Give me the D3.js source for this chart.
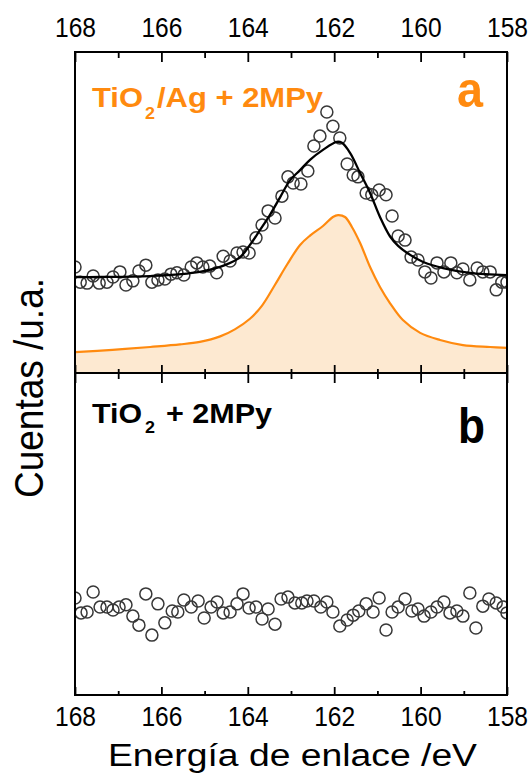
<!DOCTYPE html>
<html><head><meta charset="utf-8">
<script src="https://cdn.jsdelivr.net/npm/d3@7"></script>
<style>html,body{margin:0;padding:0;background:#fff;}svg{display:block;}</style>
</head><body>
<script>
// ---- data ----
const majorTicks = [168, 166, 164, 162, 160, 158];
const minorTicks = [167, 165, 163, 161, 159];
const tickLabels = ["168", "166", "164", "162", "160", "158"];

const fitEnergy = [168.00,167.42,166.26,165.11,164.53,164.18,163.95,163.72,163.49,163.25,163.02,162.79,162.56,162.26,161.94,161.82,161.63,161.40,161.17,160.94,160.71,160.52,160.30,159.94,159.48,158.86,158.00];
const fitA = [29.9,29.9,30.2,31.5,33.6,36.1,39.9,44.5,49.2,54.8,60.1,63.2,66.4,69.5,72.0,71.7,68.5,62.3,56.1,48.6,42.6,39.6,37.3,34.6,32.7,31.2,30.5];

const compEnergy = [168.00,167.13,166.26,165.57,165.11,164.64,164.30,163.95,163.67,163.37,163.09,162.79,162.56,162.26,162.03,161.91,161.75,161.59,161.40,161.17,160.94,160.71,160.41,160.01,159.55,159.02,158.39,158.00];
const compA = [6.5,7.2,8.1,8.9,9.7,11.4,13.6,16.9,21.0,27.5,33.8,39.9,42.8,45.8,48.6,49.2,48.6,45.5,40.5,33.0,26.8,21.8,16.5,12.5,10.3,8.7,8.1,7.8];

const energyA = [168.00,167.88,167.72,167.58,167.44,167.26,167.12,166.96,166.82,166.66,166.52,166.36,166.22,166.08,165.92,165.78,165.64,165.48,165.31,165.18,165.04,164.88,164.72,164.57,164.41,164.25,164.11,163.97,163.81,163.67,163.53,163.37,163.21,163.07,162.95,162.77,162.61,162.47,162.33,162.17,162.03,161.87,161.70,161.56,161.45,161.26,161.13,160.96,160.80,160.66,160.52,160.36,160.22,160.06,159.90,159.76,159.62,159.46,159.30,159.16,159.02,158.86,158.69,158.56,158.39,158.25,158.12,158.00];
const countsA = [33.0,28.3,28.0,30.2,28.0,28.3,29.9,31.5,27.4,28.7,31.8,33.6,28.3,29.0,29.3,30.8,31.2,30.5,33.0,34.3,33.0,33.3,31.2,36.4,34.9,37.4,37.7,37.4,42.1,46.1,50.5,48.3,55.1,61.1,59.2,58.9,62.9,70.7,73.8,81.3,76.9,73.2,65.1,61.7,61.1,56.1,55.5,57.0,55.5,48.9,42.7,41.4,36.1,35.2,31.5,29.6,34.3,31.5,34.3,31.2,32.4,29.0,32.7,31.5,31.5,25.9,28.3,28.3];

const energyB = [168.00,167.86,167.72,167.58,167.42,167.26,167.12,166.98,166.82,166.66,166.52,166.36,166.22,166.08,165.92,165.75,165.62,165.48,165.31,165.15,165.01,164.85,164.71,164.57,164.41,164.25,164.11,163.97,163.81,163.67,163.53,163.37,163.23,163.07,162.91,162.75,162.63,162.47,162.31,162.17,162.03,161.87,161.70,161.56,161.43,161.26,161.10,160.96,160.80,160.66,160.52,160.36,160.20,160.06,159.92,159.76,159.62,159.46,159.32,159.16,159.02,158.86,158.72,158.56,158.42,158.25,158.09,158.00];
const countsB = [30.1,25.5,25.8,32.0,27.3,27.3,26.4,27.3,28.0,24.5,21.7,31.4,18.6,28.3,22.4,26.1,25.8,29.5,27.3,29.2,23.9,27.3,28.9,25.5,25.8,28.3,31.4,27.0,27.3,23.6,26.7,22.0,29.8,30.4,28.6,28.6,29.2,29.2,27.3,28.9,25.8,21.4,23.3,24.8,26.1,28.3,25.8,30.1,20.2,25.8,27.3,29.8,26.1,26.7,24.5,25.8,27.3,28.9,25.5,26.1,24.5,31.7,20.8,27.6,29.8,28.6,27.3,25.5];

// ---- layout ----
const W = 531, H = 777;
const L = 75, R = 507, T = 52, MID = 373, B = 695;
const FONT = "'Liberation Sans', Arial, sans-serif";
const ORANGE = "#ff8a0f";
const CURVE = d3.curveCatmullRom.alpha(0.5);

const svg = d3.select("body").append("svg").attr("width", W).attr("height", H);

const x = d3.scaleLinear().domain([168, 158]).range([L, R]);
const yA = d3.scaleLinear().domain([0, 100]).range([MID, T]);
const yB = d3.scaleLinear().domain([0, 100]).range([B, MID]);

svg.append("clipPath").attr("id", "clipA").append("rect").attr("x", L).attr("y", T).attr("width", R - L).attr("height", MID - T);
svg.append("clipPath").attr("id", "clipB").append("rect").attr("x", L).attr("y", MID).attr("width", R - L).attr("height", B - MID);

// panel a
const gA = svg.append("g").attr("clip-path", "url(#clipA)");
const comp = compEnergy.map((e, i) => [e, compA[i]]);
gA.append("path").datum(comp)
  .attr("d", d3.area().x(d => x(d[0])).y0(yA(0)).y1(d => yA(d[1])).curve(CURVE))
  .attr("fill", "#fde9d1");
gA.append("path").datum(comp)
  .attr("d", d3.line().x(d => x(d[0])).y(d => yA(d[1])).curve(CURVE))
  .attr("fill", "none").attr("stroke", ORANGE).attr("stroke-width", 2.2);
gA.selectAll("circle").data(energyA.map((e, i) => [e, countsA[i]])).enter().append("circle")
  .attr("cx", d => x(d[0])).attr("cy", d => yA(d[1])).attr("r", 6)
  .attr("fill", "none").attr("stroke", "#383838").attr("stroke-width", 1.5);
gA.append("path").datum(fitEnergy.map((e, i) => [e, fitA[i]]))
  .attr("d", d3.line().x(d => x(d[0])).y(d => yA(d[1])).curve(CURVE))
  .attr("fill", "none").attr("stroke", "#000").attr("stroke-width", 2.3);

// panel b
const gB = svg.append("g").attr("clip-path", "url(#clipB)");
gB.selectAll("circle").data(energyB.map((e, i) => [e, countsB[i]])).enter().append("circle")
  .attr("cx", d => x(d[0])).attr("cy", d => yB(d[1])).attr("r", 6)
  .attr("fill", "none").attr("stroke", "#383838").attr("stroke-width", 1.5);

// axes ticks
function ticks(axisFn, y, vals, size) {
  const g = svg.append("g").attr("transform", `translate(0,${y})`)
    .call(axisFn(x).tickValues(vals).tickSize(size).tickFormat(""));
  g.select(".domain").remove();
  g.selectAll("line").attr("stroke", "#000").attr("stroke-width", 1.8);
}
ticks(d3.axisTop, T, majorTicks, -10);
ticks(d3.axisTop, T, minorTicks, -6);
ticks(d3.axisBottom, MID, majorTicks, -8);
ticks(d3.axisBottom, MID, minorTicks, -4);
ticks(d3.axisTop, MID, majorTicks, -10);
ticks(d3.axisTop, MID, minorTicks, -6);
ticks(d3.axisBottom, B, majorTicks, -8);
ticks(d3.axisBottom, B, minorTicks, -4);

// tick labels
function labels(axisFn, y, pad) {
  const g = svg.append("g").attr("transform", `translate(0,${y})`)
    .call(axisFn(x).tickValues(majorTicks).tickSize(0).tickPadding(pad).tickFormat((d, i) => tickLabels[i]));
  g.select(".domain").remove();
  g.selectAll("text").attr("font-family", FONT).attr("font-size", 27).attr("fill", "#000")
    .attr("textLength", 41).attr("lengthAdjust", "spacingAndGlyphs");
}
labels(d3.axisTop, T, 15);
labels(d3.axisBottom, B, 12);

// frame
svg.append("rect").attr("x", L).attr("y", T).attr("width", R - L).attr("height", B - T)
  .attr("fill", "none").attr("stroke", "#000").attr("stroke-width", 2);
svg.append("line").attr("x1", L).attr("x2", R).attr("y1", MID).attr("y2", MID)
  .attr("stroke", "#000").attr("stroke-width", 2);

// text helper
function txt(s, px, py, size, opts = {}) {
  const t = svg.append("text").attr("x", px).attr("y", py).text(s)
    .attr("font-family", FONT).attr("font-size", size)
    .attr("font-weight", opts.bold ? "bold" : "normal")
    .attr("fill", opts.fill || "#000");
  if (opts.len) t.attr("textLength", opts.len).attr("lengthAdjust", "spacingAndGlyphs");
  if (opts.anchor) t.attr("text-anchor", opts.anchor);
  if (opts.transform) t.attr("transform", opts.transform);
  return t;
}

// panel a label
txt("TiO", 92, 107, 28, {bold: true, fill: ORANGE, len: 51});
txt("2", 145, 119, 17, {bold: true, fill: ORANGE, len: 10});
txt("/Ag + 2MPy", 157, 107, 28, {bold: true, fill: ORANGE, len: 166});
txt("a", 457, 107, 50, {bold: true, fill: ORANGE, len: 26});

// panel b label
txt("TiO", 92, 423, 28, {bold: true, len: 50});
txt("2", 145, 433, 17, {bold: true, len: 10});
txt("+ 2MPy", 166, 423, 28, {bold: true, len: 106});
txt("b", 458, 443, 50, {bold: true, len: 27});

// axis titles
txt("Energía de enlace /eV", 108, 766, 31, {len: 369});
txt("Cuentas /u.a.", 0, 0, 41, {len: 220, anchor: "middle", transform: "translate(43,388) rotate(-90)"});
</script>
</body></html>
